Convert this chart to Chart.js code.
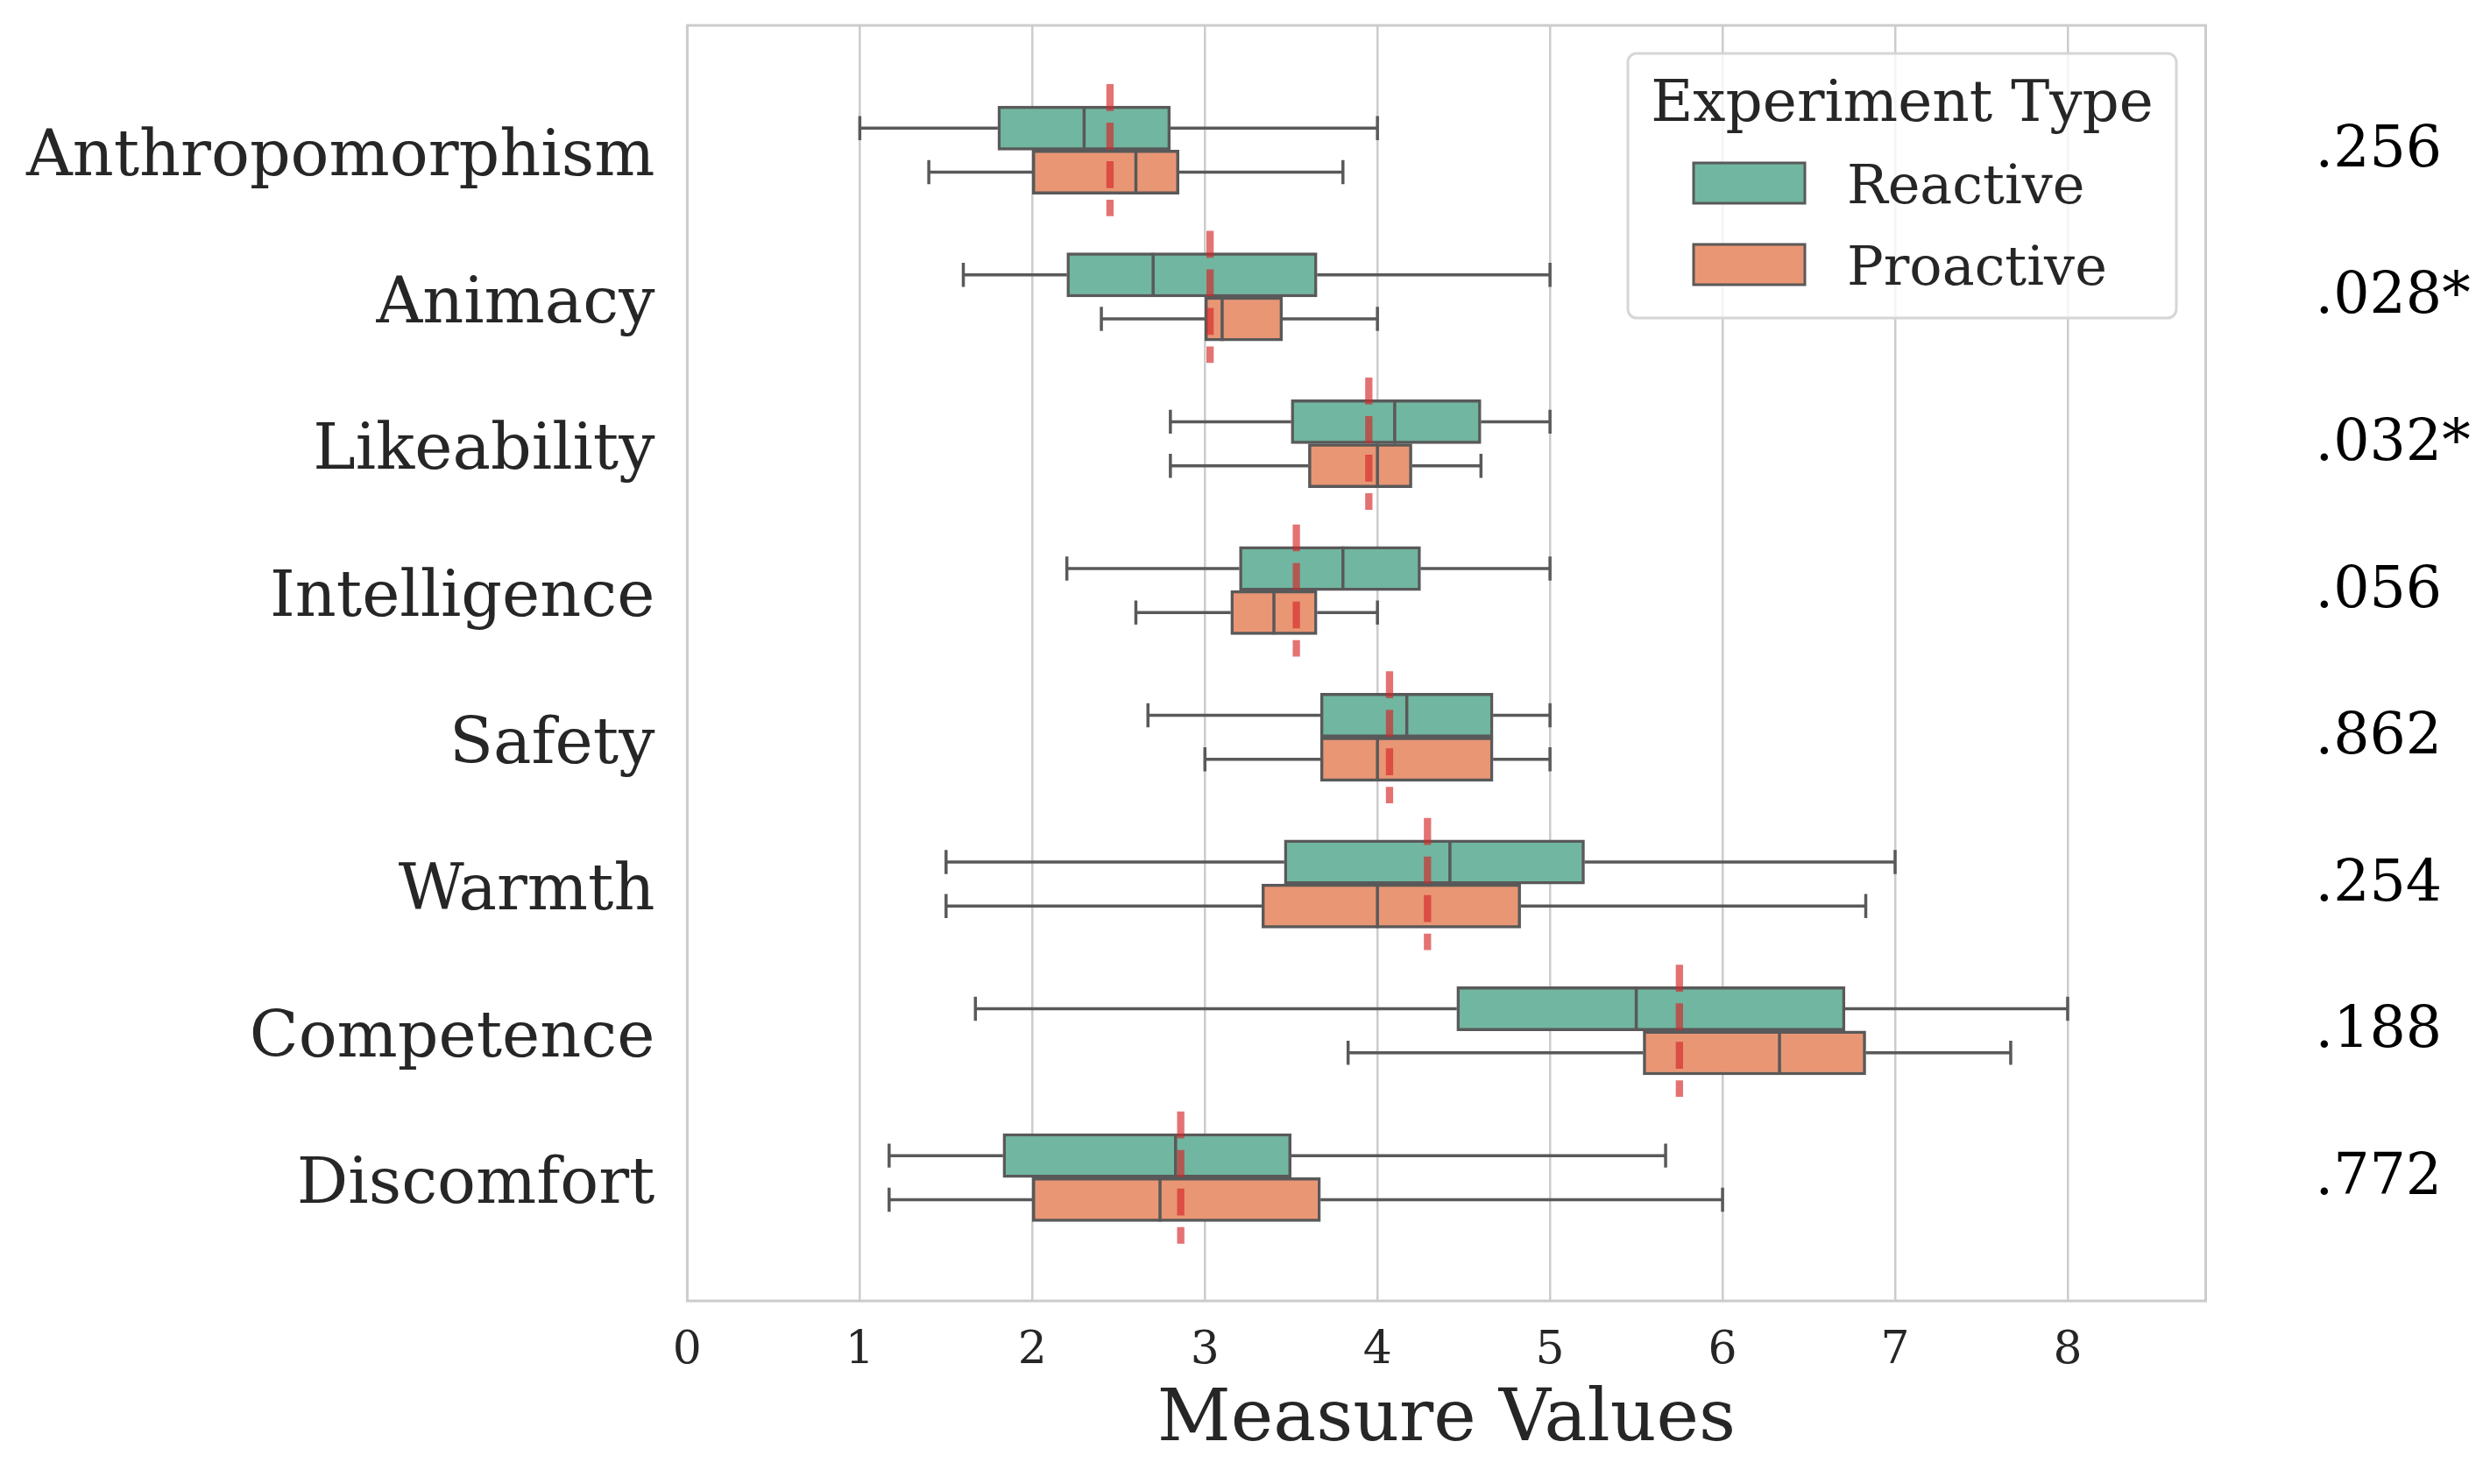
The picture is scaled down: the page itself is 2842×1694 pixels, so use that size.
<!DOCTYPE html>
<html>
<head>
<meta charset="utf-8">
<script src="https://cdn.jsdelivr.net/npm/chart.js@4.4.1/dist/chart.umd.min.js"></script>
<style>
html,body{margin:0;padding:0;background:#ffffff;}
#wrap{width:2842px;height:1694px;position:relative;}
</style>
</head>
<body>
<div id="wrap"><canvas id="c"></canvas></div>
<script>
// ---- data ----
const categories = ['Anthropomorphism','Animacy','Likeability','Intelligence','Safety','Warmth','Competence','Discomfort'];
const seriesNames = ['Reactive','Proactive'];
const legendTitle = 'Experiment Type';
const xTitle = 'Measure Values';
const xTicks = [0,1,2,3,4,5,6,7,8];

const reactiveMin    = [1.0, 1.6, 2.8, 2.2, 2.67, 1.5, 1.67, 1.17];
const reactiveQ1     = [1.8, 2.2, 3.5, 3.2, 3.67, 3.46, 4.46, 1.83];
const reactiveMedian = [2.3, 2.7, 4.1, 3.8, 4.17, 4.42, 5.5, 2.83];
const reactiveQ3     = [2.8, 3.65, 4.6, 4.25, 4.67, 5.2, 6.71, 3.5];
const reactiveMax    = [4.0, 5.0, 5.0, 5.0, 5.0, 7.0, 8.0, 5.67];

const proactiveMin    = [1.4, 2.4, 2.8, 2.6, 3.0, 1.5, 3.83, 1.17];
const proactiveQ1     = [2.0, 3.0, 3.6, 3.15, 3.67, 3.33, 5.54, 2.0];
const proactiveMedian = [2.6, 3.1, 4.0, 3.4, 4.0, 4.0, 6.33, 2.74];
const proactiveQ3     = [2.85, 3.45, 4.2, 3.65, 4.67, 4.83, 6.83, 3.67];
const proactiveMax    = [3.8, 4.0, 4.6, 4.0, 5.0, 6.83, 7.67, 6.0];

const means   = [2.45, 3.03, 3.95, 3.53, 4.07, 4.29, 5.75, 2.86];
const pValues = ['.256', '.028*', '.032*', '.056', '.862', '.254', '.188', '.772'];

// ---- styles ----
const FONT = "'DejaVu Serif', 'Liberation Serif', serif";
const TEXT = '#262626';
const LINE = '#595959';
const COLORS = ['#71b6a1', '#e99675'];
const MEAN_COLOR = 'rgba(214,39,40,0.65)';
const BOX_HALF = 0.15, CAP_HALF = 0.082, MEAN_HALF = 0.45;
const LW = 3.5;

const yPos = (i, g) => i + (g === 0 ? -BOX_HALF : BOX_HALF);
const GAP = {x: null, y: null};

function boxData(q1, q3, g) {
  return categories.map((c, i) => ({x: [q1[i], q3[i]], y: yPos(i, g)}));
}
function whiskerData(mn, q1, q3, mx, g) {
  const d = [];
  categories.forEach((c, i) => {
    const y = yPos(i, g);
    d.push({x: mn[i], y}, {x: q1[i], y}, GAP, {x: q3[i], y}, {x: mx[i], y}, GAP);
  });
  return d;
}
function capData(mn, mx, g) {
  const d = [];
  categories.forEach((c, i) => {
    const y = yPos(i, g);
    d.push({x: mn[i], y: y - CAP_HALF}, {x: mn[i], y: y + CAP_HALF}, GAP,
           {x: mx[i], y: y - CAP_HALF}, {x: mx[i], y: y + CAP_HALF}, GAP);
  });
  return d;
}
function medianData(med, g) {
  const d = [];
  categories.forEach((c, i) => {
    const y = yPos(i, g);
    d.push({x: med[i], y: y - BOX_HALF}, {x: med[i], y: y + BOX_HALF}, GAP);
  });
  return d;
}
function meanData(m) {
  const d = [];
  categories.forEach((c, i) => {
    d.push({x: m[i], y: i - MEAN_HALF}, {x: m[i], y: i + MEAN_HALF}, GAP);
  });
  return d;
}

const lineDs = (data, order, extra) => Object.assign({
  type: 'scatter', data, showLine: true, spanGaps: false, fill: false,
  pointRadius: 0, pointHoverRadius: 0, borderColor: LINE, borderWidth: LW, order
}, extra || {});

const barDs = (label, data, color) => ({
  type: 'bar', label, data, indexAxis: 'y', grouped: false,
  backgroundColor: color, borderColor: LINE, borderWidth: LW, borderSkipped: false,
  categoryPercentage: 1, barPercentage: 1, order: 3
});

const datasets = [
  lineDs(meanData(means), 0, {borderColor: MEAN_COLOR, borderWidth: 8.3, borderDash: [30.7, 13.3], borderCapStyle: 'butt'}),
  lineDs(medianData(reactiveMedian, 0), 1),
  lineDs(medianData(proactiveMedian, 1), 1),
  lineDs(whiskerData(reactiveMin, reactiveQ1, reactiveQ3, reactiveMax, 0), 2),
  lineDs(whiskerData(proactiveMin, proactiveQ1, proactiveQ3, proactiveMax, 1), 2),
  lineDs(capData(reactiveMin, reactiveMax, 0), 2),
  lineDs(capData(proactiveMin, proactiveMax, 1), 2),
  barDs(seriesNames[0], boxData(reactiveQ1, reactiveQ3, 0), COLORS[0]),
  barDs(seriesNames[1], boxData(proactiveQ1, proactiveQ3, 1), COLORS[1])
];

function roundRect(ctx, x, y, w, h, r) {
  ctx.beginPath();
  ctx.moveTo(x + r, y);
  ctx.arcTo(x + w, y, x + w, y + h, r);
  ctx.arcTo(x + w, y + h, x, y + h, r);
  ctx.arcTo(x, y + h, x, y, r);
  ctx.arcTo(x, y, x + w, y, r);
  ctx.closePath();
}

const decor = {
  id: 'decor',
  afterDraw(chart) {
    const ctx = chart.ctx;
    const a = chart.chartArea;
    const ys = chart.scales.y;
    ctx.save();
    // frame
    ctx.strokeStyle = '#cccccc';
    ctx.lineWidth = 3;
    ctx.strokeRect(a.left, a.top, a.right - a.left, a.bottom - a.top);
    // p-values
    ctx.fillStyle = '#000000';
    ctx.font = '65px ' + FONT;
    ctx.textAlign = 'left';
    ctx.textBaseline = 'alphabetic';
    pValues.forEach((p, i) => {
      ctx.fillText(p, a.right + 125, ys.getPixelForValue(i) + 18.5);
    });
    // legend
    const bx = a.right - 659.5, by = a.top + 32, bw = 626, bh = 302;
    roundRect(ctx, bx, by, bw, bh, 10);
    ctx.fillStyle = 'rgba(255,255,255,0.8)';
    ctx.fill();
    ctx.strokeStyle = '#d6d6d6';
    ctx.lineWidth = 3;
    ctx.stroke();
    ctx.fillStyle = TEXT;
    ctx.font = '66px ' + FONT;
    ctx.textAlign = 'center';
    ctx.fillText(legendTitle, bx + bw / 2, by + 77);
    ctx.textAlign = 'left';
    ctx.font = '62px ' + FONT;
    [0, 1].forEach(k => {
      const py = by + 125 + k * 93;
      ctx.fillStyle = COLORS[k];
      ctx.fillRect(bx + 75, py, 127, 46);
      ctx.strokeStyle = LINE;
      ctx.lineWidth = 3;
      ctx.strokeRect(bx + 75, py, 127, 46);
      ctx.fillStyle = TEXT;
      ctx.fillText(seriesNames[k], bx + 250, py + 46);
    });
    ctx.restore();
  }
};

Chart.defaults.font.family = FONT;

new Chart(document.getElementById('c'), {
  type: 'bar',
  data: {datasets},
  options: {
    responsive: true,
    maintainAspectRatio: false,
    animation: false,
    devicePixelRatio: 1,
    layout: {padding: {top: 29, right: 324.5, left: 0, bottom: 0}},
    plugins: {legend: {display: false}, tooltip: {enabled: false}},
    scales: {
      x: {
        type: 'linear', position: 'bottom', min: 0, max: 8.8, offset: false,
        afterBuildTicks: s => { s.ticks = xTicks.map(v => ({value: v})); },
        afterFit: s => { s.height = 209; s.paddingLeft = 0; s.paddingRight = 0; },
        grid: {color: '#cccccc', lineWidth: 2.5, drawTicks: false, offset: false},
        border: {display: false},
        ticks: {font: {size: 52}, color: TEXT, padding: 26, maxRotation: 0, autoSkip: false},
        title: {display: true, text: xTitle, font: {size: 82}, color: TEXT, padding: {top: 0, bottom: 22}}
      },
      y: {
        type: 'linear', position: 'left', reverse: true, min: -0.85, max: 7.84, offset: false,
        afterBuildTicks: s => { s.ticks = categories.map((c, i) => ({value: i})); },
        afterFit: s => { s.width = 784.4; s.paddingTop = 0; s.paddingBottom = 0; },
        grid: {display: false, drawTicks: false, offset: false},
        border: {display: false},
        ticks: {font: {size: 73}, color: TEXT, padding: 37, autoSkip: false, labelOffset: 10,
                callback: v => categories[v]}
      }
    }
  },
  plugins: [decor]
});
</script>
</body>
</html>
